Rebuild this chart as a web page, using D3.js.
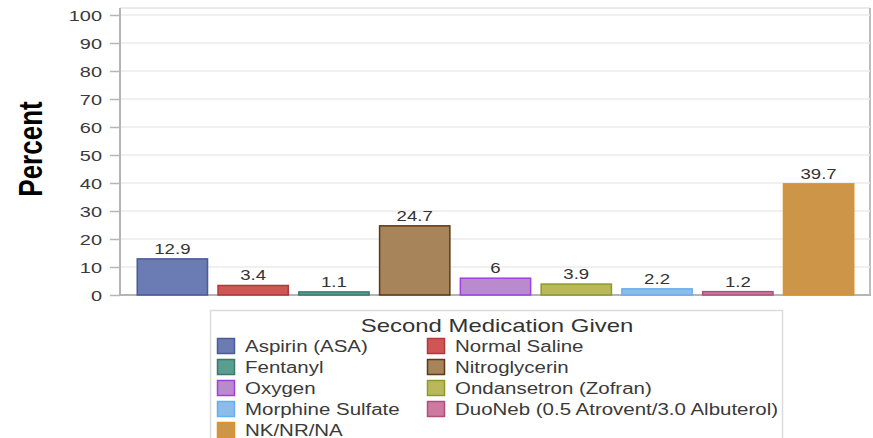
<!DOCTYPE html>
<html>
<head>
<meta charset="utf-8">
<script src="https://cdn.jsdelivr.net/npm/d3@7/dist/d3.min.js"></script>
<style>
  html, body { margin: 0; padding: 0; background: #fff; }
  svg { display: block; }
  text { font-family: 'Liberation Sans', Arial, sans-serif; }
</style>
</head>
<body>
<svg id="chart"></svg>
<script>
const categories = ['Aspirin (ASA)', 'Normal Saline', 'Fentanyl', 'Nitroglycerin', 'Oxygen',
  'Ondansetron (Zofran)', 'Morphine Sulfate', 'DuoNeb (0.5 Atrovent/3.0 Albuterol)', 'NK/NR/NA'];
const values = [12.9, 3.4, 1.1, 24.7, 6, 3.9, 2.2, 1.2, 39.7];
const fills = ['#6b7bb3', '#d05555', '#5a9e90', '#a8845a', '#b98acc', '#b9b85a', '#8cbce8', '#cc7aa0', '#cd9548'];
const strokes = ['#4b5b99', '#b03a3a', '#3a7a6e', '#5c3a1a', '#a33fe0', '#8c9a2c', '#6aaef0', '#b0507a', '#e0922a'];
const yTicks = [0, 10, 20, 30, 40, 50, 60, 70, 80, 90, 100];
const legendTitle = 'Second Medication Given';
const yTitle = 'Percent';

const width = 873, height = 438;
const stretch = 1.33; // text in the reference is widened horizontally

const svg = d3.select('#chart').attr('width', width).attr('height', height);

const plot = { left: 120, right: 870, top: 8, bottom: 295 };

const x = d3.scaleBand()
  .domain(categories)
  .range([132, 859])
  .paddingInner(0.13)
  .paddingOuter(0.065);

const y = d3.scaleLinear().domain([0, 100]).range([295, 15]);

// frame
svg.append('line')
  .attr('x1', plot.left).attr('x2', plot.right)
  .attr('y1', plot.top).attr('y2', plot.top)
  .attr('stroke', '#e2e2e2').attr('stroke-width', 1.5);
svg.append('line')
  .attr('x1', plot.right).attr('x2', plot.right)
  .attr('y1', plot.top).attr('y2', plot.bottom)
  .attr('stroke', '#bdbdbd').attr('stroke-width', 2);

// grid
svg.append('g')
  .selectAll('line')
  .data(yTicks.filter(d => d > 0))
  .join('line')
  .attr('x1', plot.left).attr('x2', plot.right)
  .attr('y1', d => y(d)).attr('y2', d => y(d))
  .attr('stroke', '#ebebeb').attr('stroke-width', 1.5);

// y axis
const yAxis = svg.append('g')
  .attr('transform', `translate(${plot.left},0)`)
  .call(d3.axisLeft(y).tickValues(yTicks).tickSize(10).tickPadding(8).tickFormat(d3.format('d')));
yAxis.select('.domain').attr('stroke', '#b5b5b5').attr('stroke-width', 2).attr('d', `M0,${plot.top}V${plot.bottom}`);
yAxis.selectAll('.tick line').attr('stroke', '#b5b5b5').attr('stroke-width', 1.5);
yAxis.selectAll('.tick text')
  .attr('fill', '#3a3a3a')
  .attr('font-size', 15)
  .attr('font-family', "'Liberation Sans', Arial, sans-serif")
  .attr('dy', '0.36em')
  .attr('transform', `translate(-18,0) scale(${stretch},1)`)
  .attr('x', 0);

// baseline
svg.append('line')
  .attr('x1', plot.left).attr('x2', plot.right + 1)
  .attr('y1', y(0)).attr('y2', y(0))
  .attr('stroke', '#b5b5b5').attr('stroke-width', 2);

// bars
svg.append('g')
  .selectAll('rect')
  .data(values)
  .join('rect')
  .attr('x', (d, i) => x(categories[i]))
  .attr('width', x.bandwidth())
  .attr('y', d => y(d))
  .attr('height', d => y(0) - y(d))
  .attr('fill', (d, i) => fills[i])
  .attr('stroke', (d, i) => strokes[i])
  .attr('stroke-width', 1.5);

// value labels
svg.append('g')
  .selectAll('text')
  .data(values)
  .join('text')
  .attr('transform', (d, i) => `translate(${x(categories[i]) + x.bandwidth() / 2},${y(d) - 5}) scale(${stretch},1)`)
  .attr('text-anchor', 'middle')
  .attr('font-size', 14)
  .attr('fill', '#333')
  .text(d => d);

// y title
svg.append('text')
  .attr('transform', `translate(42,149) rotate(-90) scale(1,1.25)`)
  .attr('text-anchor', 'middle')
  .attr('font-family', "'Open Sans', 'Liberation Sans', sans-serif")
  .attr('font-weight', 'bold')
  .attr('font-size', 26)
  .attr('fill', '#000')
  .text(yTitle);

// legend
const legend = svg.append('g');
legend.append('rect')
  .attr('x', 210.5).attr('y', 310.5)
  .attr('width', 572).attr('height', 140)
  .attr('fill', '#fff')
  .attr('stroke', '#dcdcdc').attr('stroke-width', 1.5);

legend.append('text')
  .attr('transform', `translate(497,332) scale(${stretch},1)`)
  .attr('text-anchor', 'middle')
  .attr('font-size', 18)
  .attr('fill', '#333')
  .text(legendTitle);

const colX = [217, 427];
const rowY = d3.scaleLinear().domain([0, 1]).range([346, 367]);

const items = legend.selectAll('g.item')
  .data(categories)
  .join('g')
  .attr('class', 'item')
  .attr('transform', (d, i) => `translate(${colX[i % 2]},${rowY(Math.floor(i / 2))})`);

items.append('rect')
  .attr('x', 0.5).attr('y', -7.5)
  .attr('width', 17).attr('height', 15)
  .attr('fill', (d, i) => fills[i])
  .attr('stroke', (d, i) => strokes[i])
  .attr('stroke-width', 1.5);

items.append('text')
  .attr('transform', `translate(28,6) scale(1.28,1)`)
  .attr('font-size', 16)
  .attr('fill', '#3a3a3a')
  .text(d => d);
</script>
</body>
</html>
